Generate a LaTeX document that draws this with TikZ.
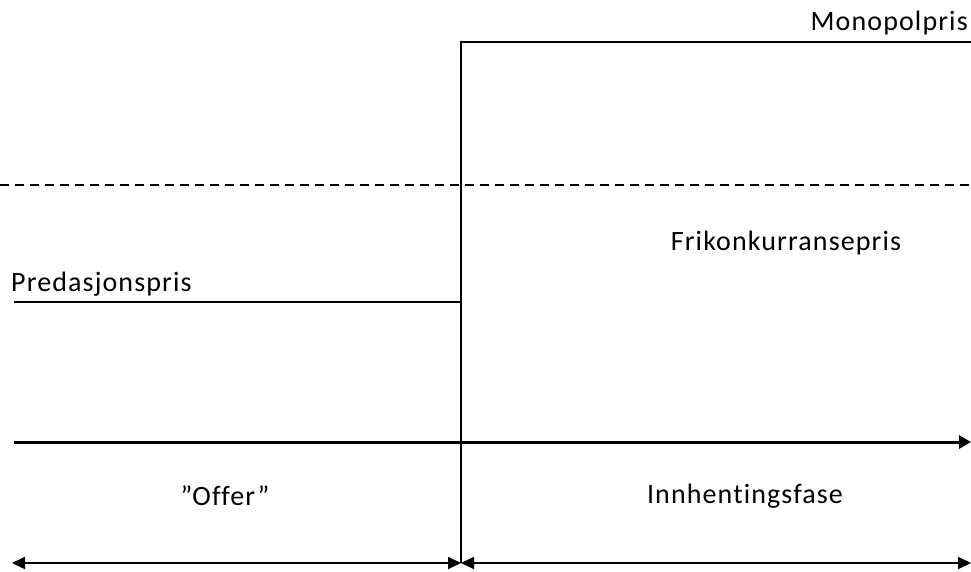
\documentclass[tikz,border=0pt]{standalone}
\usepackage{fontspec}
\setmainfont{Carlito}[LetterSpace=4, Ligatures=NoCommon]
\usepackage{tikz}
\usetikzlibrary{positioning}
\usetikzlibrary{arrows.meta}

\begin{document}
\begin{tikzpicture}[x=1pt, y=-1pt, font=\fontsize{28}{32}\selectfont, >={Triangle[length=13pt, width=12pt]}]
            \useasboundingbox (0,0) rectangle (971,572);
            \tikzset{price/.style={line width=1.8pt}, axis/.style={line width=3pt}}
            \coordinate (mono_start) at (461,42);
            \coordinate (mono_end) at (971,42);
            \coordinate (free_start) at (0,185);
            \coordinate (free_end) at (971,185);
            \coordinate (pred_start) at (14,302);
            \coordinate (pred_end) at (461,302);
            \coordinate (axis_start) at (14,442);
            \coordinate (axis_end) at (971,442);
            \coordinate (phase_left) at (12,563);
            \coordinate (phase_mid) at (461,563);
            \coordinate (phase_right) at (971,563);
            \node[anchor=base east, inner sep=0pt] (mono) at (968,31) {Monopolpris};
            \node (free) at (786,243) {Frikonkurransepris};
            \node[anchor=base west, inner sep=0pt] (pred) at (11,291) {Predasjonspris};
            \node (offer) at (225,496) {”Offer”};
            \node (catchup) at (745,496) {Innhentingsfase};
            \draw[price] (mono_end) -- (mono_start) -- (phase_mid);
            \draw[price, dash pattern=on 9pt off 6pt] (free_start) -- (free_end);
            \draw[price] (pred_start) -- (pred_end);
            \draw[axis, -{Triangle[length=12pt, width=13pt]}] (axis_start) -- (axis_end);
            \draw[price, <->] (phase_left) -- (phase_mid);
            \draw[price, <->] (phase_mid) -- (phase_right);
        \end{tikzpicture}
\end{document}
